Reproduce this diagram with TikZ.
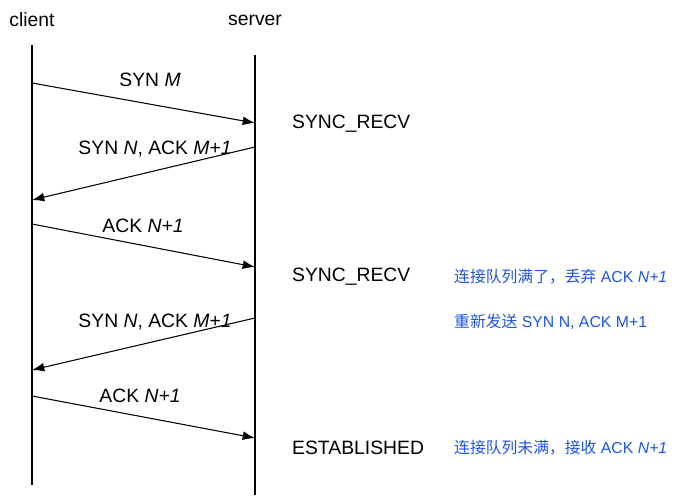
\documentclass[tikz,border=0pt]{standalone}
\usepackage{fontspec}
\setmainfont{Liberation Sans}
\newfontfamily\cjk{Noto Sans CJK SC}
\usetikzlibrary{arrows.meta}
\definecolor{noteblue}{RGB}{30,85,225}
\tikzset{
  msg/.style={-{Latex[length=7pt,width=5pt]}, line width=0.6pt},
  lbl/.style={font=\fontsize{11}{13}\selectfont},
  state/.style={anchor=west, font=\fontsize{11}{13}\selectfont},
  note/.style={anchor=west, text=noteblue, font=\fontsize{9}{11}\selectfont}
}
\begin{document}
\begin{tikzpicture}[x=0.02cm, y=-0.02cm]
\useasboundingbox (0,0) rectangle (688,500);

\node[lbl] (client) at (32,20) {client};
\node[lbl] (server) at (255,20) {server};

\coordinate (C0) at (32,45);
\coordinate (C1) at (32,485);
\coordinate (S0) at (255,55);
\coordinate (S1) at (255,495);
\draw[line width=0.6pt] (C0) -- (C1);
\draw[line width=0.6pt] (S0) -- (S1);

\coordinate (A1) at (32,83);
\coordinate (B1) at (255,123);
\coordinate (B2) at (255,147);
\coordinate (A2) at (32,200);
\coordinate (A3) at (32,224);
\coordinate (B3) at (255,267);
\coordinate (B4) at (255,318);
\coordinate (A4) at (32,370);
\coordinate (A5) at (32,396);
\coordinate (B5) at (255,438);

\draw[msg] (A1) -- (B1);
\draw[msg] (B2) -- (A2);
\draw[msg] (A3) -- (B3);
\draw[msg] (B4) -- (A4);
\draw[msg] (A5) -- (B5);

\node[lbl] (m1) at (150,80) {SYN \textit{M}};
\node[lbl] (m2) at (155,149) {SYN \textit{N}, ACK \textit{M+1}};
\node[lbl] (m3) at (143,226) {ACK \textit{N+1}};
\node[lbl] (m4) at (155,322) {SYN \textit{N}, ACK \textit{M+1}};
\node[lbl] (m5) at (140,396) {ACK \textit{N+1}};

\node[state] (s1) at (286,124) {SYNC\_RECV};
\node[state] (s2) at (286,277) {SYNC\_RECV};
\node[state] (s3) at (286,448) {ESTABLISHED};

\node[note] (n1) at (448,277) {{\cjk 连接队列满了，丢弃} ACK \textit{N+1}};
\node[note] (n2) at (448,322) {{\cjk 重新发送} SYN N, ACK M+1};
\node[note] (n3) at (448,448) {{\cjk 连接队列未满，接收} ACK \textit{N+1}};
\end{tikzpicture}
\end{document}
